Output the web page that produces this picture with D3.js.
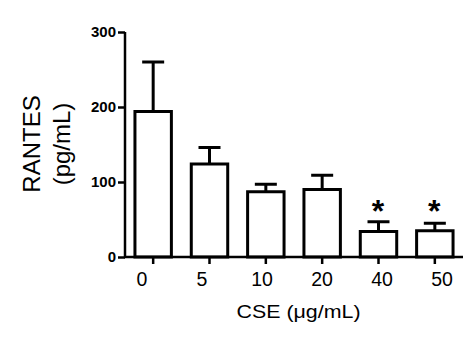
<!DOCTYPE html>
<html><head><meta charset="utf-8">
<script src="https://cdn.jsdelivr.net/npm/d3@7"></script>
<style>body{margin:0;background:#fff}svg{display:block}</style>
</head><body>
<script>
const categories = ["0","5","10","20","40","50"];
const means = [194, 124, 87, 90, 34, 35];
const errors = [66, 22, 10, 19, 13, 10];
const significant = [false,false,false,false,true,true];
const yTicks = [0,100,200,300];

const W=474,H=339;
const svg=d3.select("body").append("svg").attr("width",W).attr("height",H);
const x=d3.scaleBand().domain(categories).range([125,463]).paddingInner(0.3).paddingOuter(0.15);
const xLabel=d3.scalePoint().domain(categories).range([142,442]);
const y=d3.scaleLinear().domain([0,300]).range([257,32]);

const font="Liberation Sans, Arial, sans-serif";

// bars
svg.selectAll("rect.bar").data(means).join("rect")
  .attr("x",(d,i)=>x(categories[i])+1.5)
  .attr("y",d=>y(d))
  .attr("width",x.bandwidth()-3)
  .attr("height",d=>y(0)-y(d))
  .attr("fill","#fff").attr("stroke","#000").attr("stroke-width",3);

// error bars
const eg=svg.append("g").attr("stroke","#000").attr("stroke-width",3);
means.forEach((m,i)=>{
  const cx=x(categories[i])+x.bandwidth()/2;
  eg.append("line").attr("x1",cx).attr("x2",cx).attr("y1",y(m)).attr("y2",y(m+errors[i]));
  eg.append("line").attr("x1",cx-11).attr("x2",cx+11).attr("y1",y(m+errors[i])).attr("y2",y(m+errors[i]));
});

// asterisks
svg.selectAll("text.sig").data(categories.filter((c,i)=>significant[i])).join("text")
  .attr("x",d=>x(d)+x.bandwidth()/2-0.5).attr("y",222)
  .attr("text-anchor","middle").attr("font-family",font).attr("font-weight","bold")
  .attr("font-size",32).text("*");

// y axis
const ya=svg.append("g").attr("transform","translate(125,0)")
  .call(d3.axisLeft(y).tickValues(yTicks).tickSize(7).tickPadding(2));
ya.select(".domain").attr("stroke-width",2.5).attr("d","M0,"+y(300)+"V"+y(0));
ya.selectAll(".tick line").attr("stroke-width",2.5);
ya.selectAll("text").attr("font-family",font).attr("font-weight","bold").attr("font-size",15).attr("fill","#000");

// x axis
const xa=svg.append("g").attr("transform","translate(0,257)")
  .call(d3.axisBottom(x).tickSize(7).tickFormat(""));
xa.select(".domain").attr("stroke-width",2.5).attr("d","M124,0H463");
xa.selectAll(".tick line").attr("stroke-width",2.5);
svg.append("g").selectAll("text").data(categories).join("text")
  .attr("x",d=>xLabel(d)).attr("y",285.5).attr("text-anchor","middle")
  .attr("font-family",font).attr("font-size",19.5).attr("fill","#000").text(d=>d);

// titles
svg.append("text").attr("x",236.5).attr("y",317.5)
  .attr("textLength",124).attr("lengthAdjust","spacingAndGlyphs")
  .attr("font-family",font).attr("font-size",18).text("CSE (\u03BCg/mL)");
const yt=svg.append("text").attr("transform","translate(40,144) rotate(-90)")
  .attr("text-anchor","middle").attr("font-family",font).attr("font-size",24);
yt.append("tspan").attr("x",0).attr("y",0).text("RANTES");
yt.append("tspan").attr("x",0).attr("y",29.5).text("(pg/mL)");
</script>
</body></html>
